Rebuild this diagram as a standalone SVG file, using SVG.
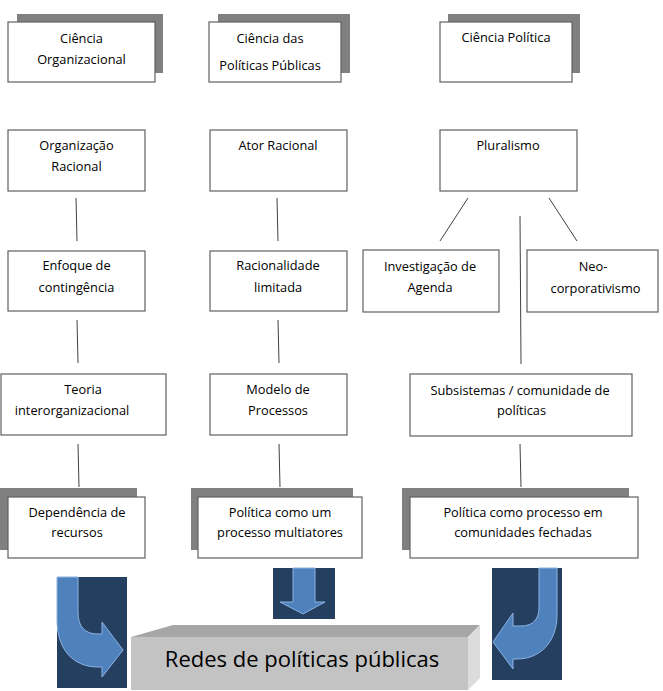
<svg xmlns="http://www.w3.org/2000/svg" width="663" height="691" viewBox="0 0 663 691">
<style>
.box{fill:#fff;stroke:#606060;stroke-width:1.2}
.sh{fill:#808080}
.t{font-family:"Open Sans","Liberation Sans",sans-serif;font-size:12.8px;fill:#000;text-anchor:middle}
.ln{stroke:#404040;stroke-width:1;fill:none}
.bg{fill:#243F60}
.ar{fill:#4F81BD;stroke:#8DB3E2;stroke-width:1}
.big{font-family:"Open Sans","Liberation Sans",sans-serif;font-size:22px;fill:#000;text-anchor:middle}
</style>
<rect width="663" height="691" fill="#fff"/>
<g id="connectors">
<line class="ln" x1="76" y1="198" x2="77" y2="241"/>
<line class="ln" x1="277" y1="198" x2="278" y2="241"/>
<line class="ln" x1="468" y1="198" x2="440" y2="241"/>
<line class="ln" x1="549" y1="198" x2="577" y2="241"/>
<line class="ln" x1="520" y1="216" x2="521" y2="364"/>
<line class="ln" x1="77" y1="320" x2="78" y2="363"/>
<line class="ln" x1="278" y1="320" x2="279" y2="363"/>
<line class="ln" x1="78" y1="444" x2="79" y2="487"/>
<line class="ln" x1="279" y1="444" x2="280" y2="487"/>
<line class="ln" x1="520" y1="444" x2="521" y2="487"/>
</g>
<g id="n-ciencia-org">
<rect class="sh" x="17" y="14" width="146" height="59"/>
<rect class="box" x="8" y="22" width="147" height="60"/>
<text class="t" x="81.5" y="43">Ciência</text>
<text class="t" x="81.5" y="64">Organizacional</text>
</g>
<g id="n-ciencia-pp">
<rect class="sh" x="218" y="14" width="132" height="59"/>
<rect class="box" x="209" y="22" width="132" height="60"/>
<text class="t" x="270" y="43">Ciência das</text>
<text class="t" x="270" y="70">Políticas Públicas</text>
</g>
<g id="n-ciencia-pol">
<rect class="sh" x="448" y="14" width="132" height="59"/>
<rect class="box" x="440" y="22" width="132" height="60"/>
<text class="t" x="506" y="42">Ciência Política</text>
</g>
<g id="n-org-racional">
<rect class="box" x="8" y="130" width="137" height="61"/>
<text class="t" x="76.5" y="150">Organização</text>
<text class="t" x="76.5" y="171">Racional</text>
</g>
<g id="n-ator-racional">
<rect class="box" x="210" y="130" width="137" height="61"/>
<text class="t" x="278" y="150">Ator Racional</text>
</g>
<g id="n-pluralismo">
<rect class="box" x="440" y="130" width="137" height="61"/>
<text class="t" x="508" y="150">Pluralismo</text>
</g>
<g id="n-enfoque">
<rect class="box" x="8" y="251" width="137" height="60"/>
<text class="t" x="76.5" y="270">Enfoque de</text>
<text class="t" x="76.5" y="292">contingência</text>
</g>
<g id="n-racionalidade">
<rect class="box" x="210" y="251" width="137" height="60"/>
<text class="t" x="278" y="270">Racionalidade</text>
<text class="t" x="278" y="292">limitada</text>
</g>
<g id="n-investigacao">
<rect class="box" x="363" y="250" width="136" height="62"/>
<text class="t" x="430" y="271">Investigação de</text>
<text class="t" x="430" y="292">Agenda</text>
</g>
<g id="n-neo">
<rect class="box" x="527" y="250" width="131" height="62"/>
<text class="t" x="593" y="271">Neo-</text>
<text class="t" x="595.5" y="293">corporativismo</text>
</g>
<g id="n-teoria">
<rect class="box" x="1" y="374" width="165" height="61"/>
<text class="t" x="83" y="394">Teoria</text>
<text class="t" x="72" y="415">interorganizacional</text>
</g>
<g id="n-modelo">
<rect class="box" x="210" y="374" width="137" height="61"/>
<text class="t" x="278" y="394">Modelo de</text>
<text class="t" x="278" y="415">Processos</text>
</g>
<g id="n-subsistemas">
<rect class="box" x="410" y="374" width="222" height="62"/>
<text class="t" x="520" y="395">Subsistemas / comunidade de</text>
<text class="t" x="521.5" y="415">políticas</text>
</g>
<g id="n-dependencia">
<rect class="sh" x="0" y="488" width="137" height="62"/>
<rect class="box" x="8" y="497" width="137" height="61"/>
<text class="t" x="77" y="517">Dependência de</text>
<text class="t" x="77" y="537">recursos</text>
</g>
<g id="n-multiatores">
<rect class="sh" x="191" y="488" width="162" height="62"/>
<rect class="box" x="198" y="497" width="164" height="61"/>
<text class="t" x="280" y="517">Política como um</text>
<text class="t" x="280" y="537">processo multiatores</text>
</g>
<g id="n-comunidades">
<rect class="sh" x="402" y="488" width="227" height="62"/>
<rect class="box" x="410" y="497" width="228" height="61"/>
<text class="t" x="523" y="517">Política como processo em</text>
<text class="t" x="523" y="537">comunidades fechadas</text>
</g>
<g id="arrow-left">
<rect class="bg" x="57" y="577" width="70" height="111"/>
<path class="ar" d="M57,577 L78,577 L78,612 Q78,634 98,634 L102,634 L102,622 L123,650 L102,677 L102,667 L98,667 C72,667 57,648 57,620 Z"/>
</g>
<g id="arrow-mid">
<rect class="bg" x="273" y="568" width="62" height="51"/>
<path class="ar" d="M293,568 L315,568 L315,602 L325,602 L303,614 L280,602 L293,602 Z"/>
</g>
<g id="arrow-right">
<rect class="bg" x="492" y="568" width="70" height="112"/>
<path class="ar" d="M539,568 L557,568 L557,615 C557,642 540,659 517,659 L513,659 L513,669 L493,642 L513,613 L513,626 L521,626 C534,626 539,618 539,608 Z"/>
</g>
<g id="n-redes">
<polygon points="131,637 173,625 480,625 468,637" fill="#A6A6A6"/>
<polygon points="468,637 480,625 480,678 468,690" fill="#DCDCDC"/>
<rect x="131" y="637" width="337" height="53" fill="#C3C3C3"/>
<text class="big" x="302" y="667">Redes de políticas públicas</text>
</g>
</svg>
